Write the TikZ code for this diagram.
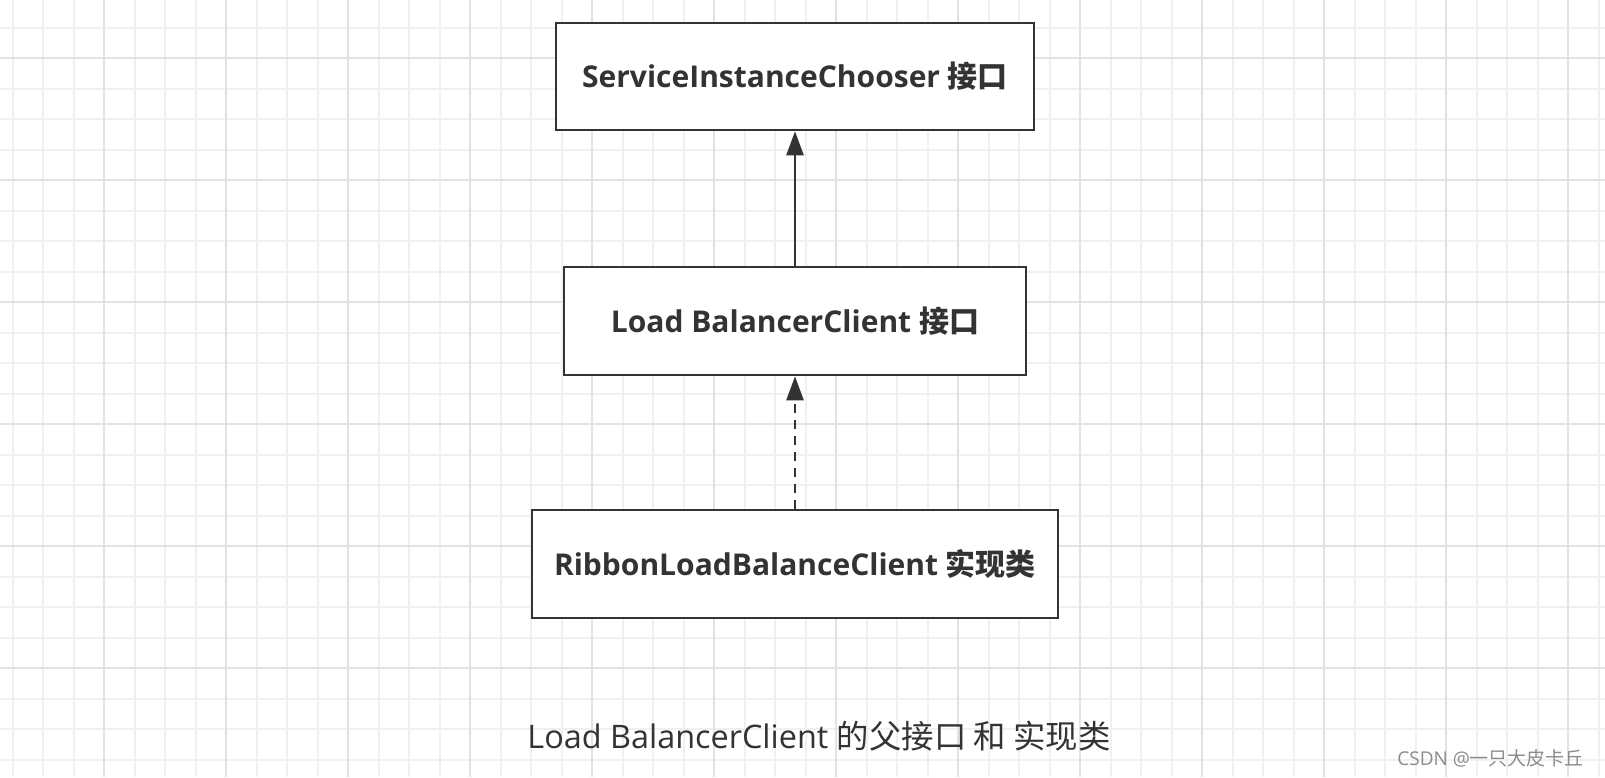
\documentclass[tikz,border=0pt]{standalone}
\usepackage{fontspec}
\setmainfont{Open Sans}
\newfontfamily\cjk{Noto Sans CJK SC}
\usetikzlibrary{arrows.meta}
\definecolor{ink}{HTML}{333333}
\definecolor{gridminor}{HTML}{F0F0F0}
\definecolor{gridmajor}{HTML}{E2E2E2}
\tikzset{
  classbox/.style={draw=ink, line width=1.3pt, fill=white, text=ink, font=\bfseries\fontsize{15pt}{18pt}\selectfont},
  inherit/.style={draw=ink, line width=1.3pt, -{Triangle[length=12pt,width=8.5pt]}},
}
\begin{document}
\begin{tikzpicture}[x=0.5pt,y=-0.5pt]
    % Background
    \fill[white] (0,0) rectangle (1605,777);
    \useasboundingbox (0,0) rectangle (1605,777);

    % Grid
    \foreach \i in {-4,...,49}
        \draw[gridminor, line width=1pt] ({104+30.5*\i},0) -- ({104+30.5*\i},777);
    \foreach \i in {-2,...,24}
        \draw[gridminor, line width=1pt] (0,{58+30.5*\i}) -- (1605,{58+30.5*\i});
    \foreach \i in {-1,...,12}
        \draw[gridmajor, line width=1pt] ({104+122*\i},0) -- ({104+122*\i},777);
    \foreach \i in {-1,...,6}
        \draw[gridmajor, line width=1pt] (0,{58+122*\i}) -- (1605,{58+122*\i});

    % Boxes
    \node[classbox, minimum width=239pt, minimum height=53.5pt] (chooser) at (795,76.5) {ServiceInstanceChooser {\cjk 接口}};
    \node[classbox, minimum width=231pt, minimum height=54pt] (lbclient) at (795,321) {Load BalancerClient {\cjk 接口}};
    \node[classbox, minimum width=263pt, minimum height=54pt] (ribbon) at (795,564) {RibbonLoadBalanceClient {\cjk 实现类}};

    % Arrows
    \draw[inherit] (lbclient) -- (chooser);
    \draw[inherit, dash pattern=on 4.5pt off 3.5pt] (ribbon) -- (lbclient);

    % Caption
    \node[text=ink, font=\fontsize{16.2pt}{19pt}\selectfont] (caption) at (819,736) {Load BalancerClient {\cjk 的父接口 和 实现类}};
    \node[text=black!45, font=\fontsize{9.5pt}{11pt}\selectfont, anchor=east] (mark) at (1591,758) {CSDN @{\cjk 一只大皮卡丘}};
\end{tikzpicture}
\end{document}
